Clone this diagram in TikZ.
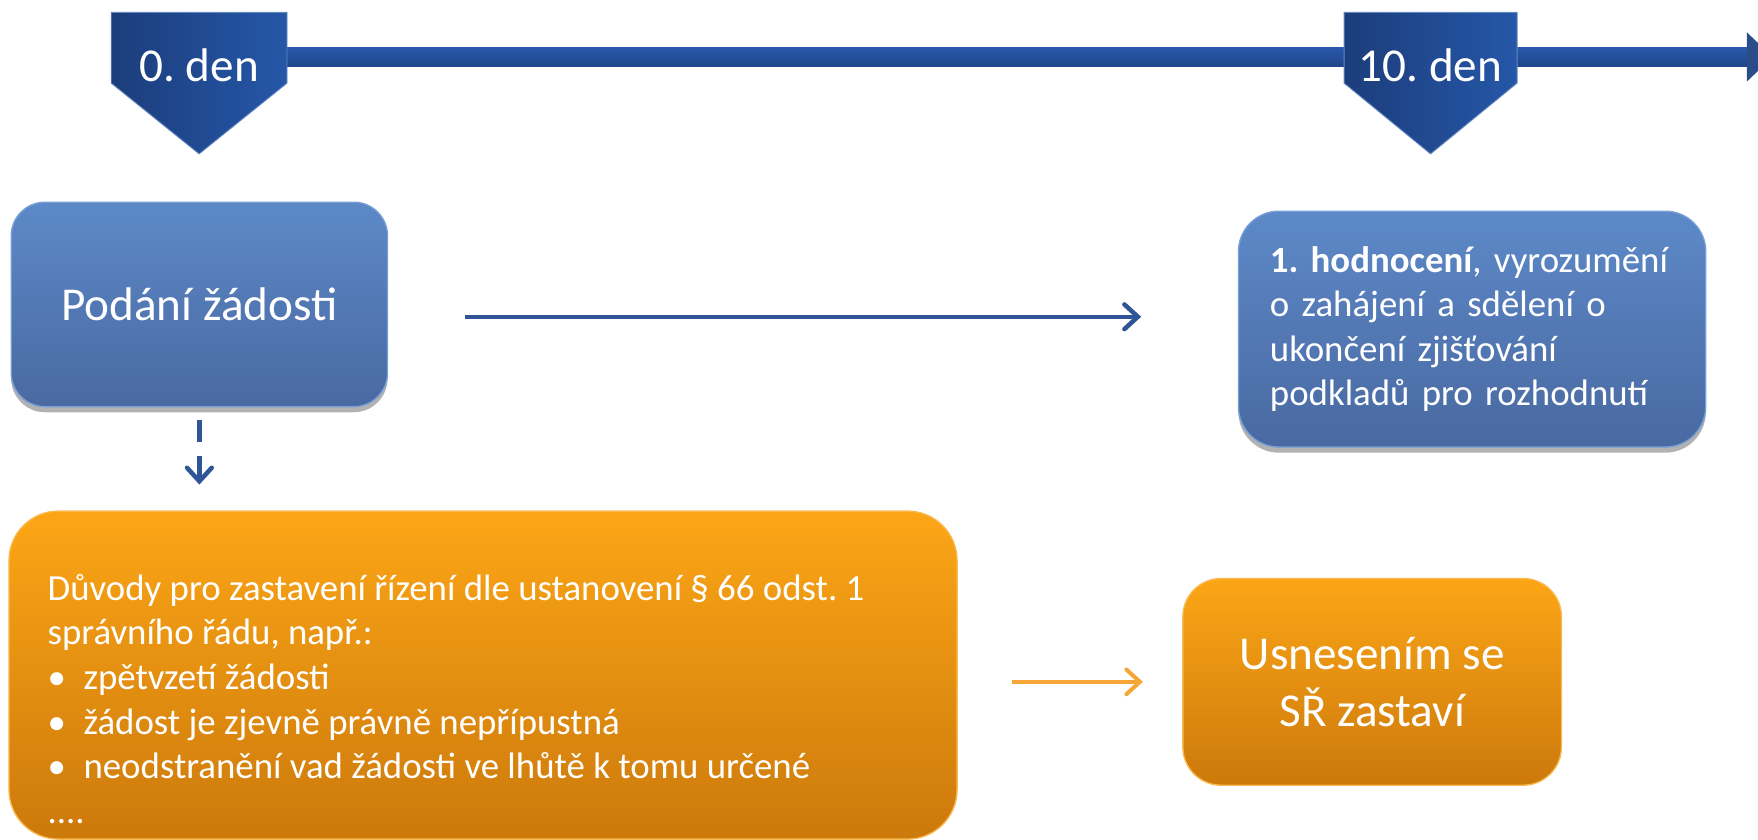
\documentclass[tikz,border=0pt]{standalone}
\usepackage{fontspec}
\setmainfont{Carlito}
\usetikzlibrary{arrows.meta,shadows,calc}
\definecolor{bluetop}{RGB}{93,137,200}
\definecolor{bluebot}{RGB}{73,105,161}
\definecolor{blueedge}{RGB}{120,160,215}
\definecolor{orgtop}{RGB}{252,166,22}
\definecolor{orgbot}{RGB}{204,121,12}
\definecolor{orgedge}{RGB}{250,185,80}
\definecolor{pentL}{RGB}{28,61,123}
\definecolor{pentR}{RGB}{37,87,168}
\definecolor{bartop}{RGB}{40,88,168}
\definecolor{barbot}{RGB}{31,70,138}
\definecolor{arrblue}{RGB}{47,85,151}
\definecolor{arrorg}{RGB}{246,166,56}
\frenchspacing
\begin{document}
\begin{tikzpicture}[x=0.5pt,y=-0.5pt,
  bluebox/.style={rounded corners=15pt, top color=bluetop, bottom color=bluebot,
    draw=blueedge, line width=0.6pt, text=white,
    drop shadow={shadow xshift=0pt, shadow yshift=-2.5pt, opacity=0.3, fill=black}},
  orbox/.style={rounded corners=17pt, top color=orgtop, bottom color=orgbot,
    draw=orgedge, line width=0.6pt, text=white},
  pentshape/.style={left color=pentL, right color=pentR, draw=pentR!70!white, line width=0.4pt},
  bigfont/.style={font=\fontsize{21}{25.3}\selectfont},
  smallfont/.style={font=\fontsize{16.4}{19.85}\selectfont},
  barrow/.style={draw=arrblue, line width=2pt, -{Straight Barb[length=6pt,width=11pt,line cap=round]}},
  oarrow/.style={draw=arrorg, line width=1.8pt, -{Straight Barb[length=6pt,width=11pt,line cap=round]}},
  daytext/.style={text=white, font=\fontsize{21}{25}\selectfont, anchor=base, inner sep=0pt}
]
\useasboundingbox (0,0) rectangle (1565,747);
\clip (0,0) rectangle (1565,747);

% timeline bar
\fill[top color=bartop, bottom color=barbot] (177,42.7) rectangle (1556,58.8);
\fill[arrblue!90!black] (1555,28.7) -- (1578,50.7) -- (1555,72.7) -- cycle;

% day markers
\path[pentshape] (99,11) -- (255.5,11) -- (255.5,74) -- (177.25,137) -- (99,74) -- cycle;
\node[daytext] (den0) at (177.25,73) {0. den};
\path[pentshape] (1196.5,11) -- (1350.5,11) -- (1350.5,74) -- (1273.5,137) -- (1196.5,74) -- cycle;
\node[daytext] (den10) at (1273.5,73) {10. den};

% boxes
\node[bluebox, bigfont, minimum width=167.5pt, minimum height=91pt] (podani) at (177.5,271) {Podání žádosti};
\node[bluebox, smallfont, rounded corners=18pt, minimum width=207.5pt, minimum height=105pt,
      text width=180pt, align=left, inner xsep=14pt] (hodn) at (1310.5,293)
  {\textbf{1. hodnocení}, vyrozumění\\ o zahájení a sdělení o\\ ukončení zjišťování\\ podkladů pro rozhodnutí};

\node[orbox, rounded corners=22pt, minimum width=422pt, minimum height=146pt] (duvody) at (430,601) {};
\node[smallfont, text=white, align=left, anchor=north west, inner sep=0pt] (duvtxt) at (42,506)
  {\rule{0pt}{14pt}Důvody pro zastavení řízení dle ustanovení § 66 odst. 1\\
   správního řádu, např.:\\
   \makebox[16pt][l]{•}zpětvzetí žádosti\\
   \makebox[16pt][l]{•}žádost je zjevně právně nepřípustná\\
   \makebox[16pt][l]{•}neodstranění vad žádosti ve lhůtě k tomu určené\\
   ....};

\node[orbox, bigfont, minimum width=168.5pt, minimum height=92pt, align=center] (usn) at (1221.5,607)
  {Usnesením se\\SŘ zastaví};

% connectors
\coordinate (m1) at ($(podani.east)!0.5!(hodn.west)$);
\draw[barrow, shorten <=34pt, shorten >=43pt] (podani.east |- m1) -- (hodn.west |- m1);
\draw[oarrow, shorten <=24pt, shorten >=17.5pt] (duvody.east |- usn.west) -- (usn.west);
\draw[barrow, dash pattern=on 10pt off 6pt, shorten <=5.5pt, shorten >=11.5pt] (podani.south) -- (podani.south |- duvody.north);
\end{tikzpicture}
\end{document}
